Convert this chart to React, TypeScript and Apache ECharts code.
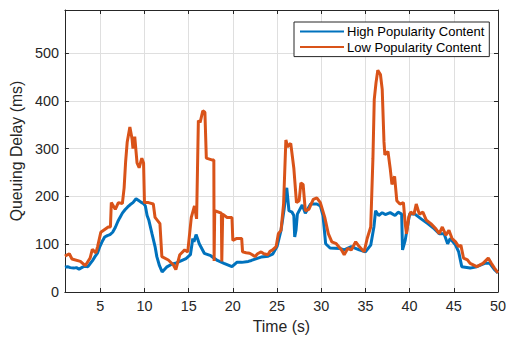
import React, { useEffect, useRef } from "react";
import * as echarts from "echarts";

const highTime = [1, 1.3, 1.6, 2.0, 2.3, 2.6, 3.0, 3.3, 3.6, 3.8, 4.1, 4.4, 4.7, 4.95, 5.2, 5.5, 5.8, 6.1, 6.4, 6.7, 7.0, 7.2, 7.5, 7.8, 8.1, 8.4, 8.7, 9.05, 9.3, 9.6, 9.9, 10.1, 10.3, 10.5, 10.85, 11.2, 11.4, 11.7, 12.0, 12.5, 13.07, 13.5, 14.0, 14.7, 15.2, 15.47, 15.6, 15.84, 16.0, 16.2, 16.77, 17.5, 18.25, 19.0, 19.9, 20.45, 21.0, 21.75, 22.1, 22.85, 23.2, 24.0, 24.5, 25.0, 25.45, 25.8, 26.1, 26.35, 26.7, 26.9, 27.0, 27.15, 27.3, 27.85, 28.2, 28.8, 29.5, 29.9, 30.2, 30.5, 31.0, 32.1, 32.6, 33.4, 34.3, 35.0, 35.6, 35.96, 36.15, 36.5, 36.9, 37.25, 37.8, 38.35, 38.7, 39.1, 39.2, 39.5, 39.75, 40.0, 40.6, 41.3, 42.05, 42.8, 43.35, 43.9, 44.3, 44.6, 45.2, 45.55, 45.9, 46.85, 47.6, 48.5, 49.06, 49.6, 50];
const highDelay = [52, 53, 51, 50, 51, 48, 52, 54, 53, 58, 65, 74, 82, 95, 105, 115, 118, 120, 125, 135, 148, 155, 165, 172, 178, 183, 187, 195, 192, 188, 185, 180, 160, 150, 122, 95, 74, 55, 42, 52, 58, 60, 64, 70, 78, 112, 105, 120, 112, 101, 81, 76, 66, 60, 53, 62, 62, 64, 66, 71, 73, 75, 79, 95, 129, 173, 218, 170, 167, 160, 115, 130, 163, 182, 165, 184, 184, 180, 160, 101, 92, 91, 88, 95, 88, 84, 98, 136, 170, 160, 166, 162, 166, 160, 167, 163, 88, 108, 136, 163, 163, 153, 143, 132, 122, 122, 101, 112, 98, 84, 53, 50, 53, 60, 60, 47, 40];

const lowTime = [1, 1.5, 1.8, 2.75, 3.3, 3.85, 4.1, 4.5, 4.7, 5.06, 5.9, 6.15, 6.25, 6.7, 7.05, 7.5, 7.7, 7.87, 8.05, 8.35, 8.6, 8.7, 8.9, 9.16, 9.4, 9.7, 9.9, 10.0, 10.45, 11.0, 11.2, 11.75, 11.97, 12.7, 13.26, 13.55, 14.0, 14.55, 14.9, 15.3, 15.66, 15.9, 16.1, 16.3, 16.6, 16.84, 17.0, 17.7, 17.85, 17.88, 17.95, 18.7, 18.75, 18.85, 19.35, 19.9, 20.0, 20.45, 21.0, 21.1, 21.5, 21.9, 22.2, 22.5, 22.8, 23.2, 23.5, 23.96, 24.2, 24.5, 24.9, 25.15, 25.45, 25.74, 26.0, 26.2, 26.55, 26.9, 27.2, 27.5, 27.7, 27.95, 28.2, 28.6, 29.1, 29.5, 29.9, 30.4, 30.8, 31.2, 31.7, 32.3, 32.6, 33.0, 33.4, 33.9, 34.3, 34.85, 35.2, 35.6, 35.85, 36.0, 36.2, 36.4, 36.7, 36.9, 37.1, 37.2, 37.55, 37.8, 38.0, 38.3, 38.55, 38.9, 39.3, 39.5, 39.65, 39.9, 40.1, 40.5, 40.75, 41.1, 41.5, 41.9, 42.4, 42.97, 43.35, 43.7, 44.1, 44.45, 44.8, 45.2, 45.55, 45.8, 46.1, 46.55, 46.85, 47.6, 48.3, 48.9, 49.25, 49.6, 50];
const lowDelay = [75, 80, 69, 64, 55, 71, 89, 82, 95, 125, 136, 136, 187, 173, 187, 185, 218, 273, 314, 345, 320, 300, 325, 270, 260, 280, 270, 187, 187, 184, 156, 143, 74, 67, 57, 47, 78, 88, 84, 156, 180, 153, 359, 355, 379, 376, 280, 276, 276, 65, 170, 165, 64, 163, 156, 156, 108, 112, 112, 84, 82, 81, 78, 74, 80, 84, 80, 78, 85, 88, 95, 122, 129, 184, 318, 304, 311, 259, 187, 191, 228, 225, 170, 173, 194, 197, 187, 156, 122, 105, 101, 88, 78, 91, 88, 105, 95, 84, 112, 136, 280, 403, 438, 464, 455, 424, 314, 287, 294, 259, 225, 242, 191, 184, 187, 143, 122, 156, 167, 163, 184, 163, 167, 150, 143, 132, 122, 136, 119, 129, 112, 105, 95, 98, 71, 67, 60, 53, 60, 71, 60, 50, 40];

const xTicks = [5, 10, 15, 20, 25, 30, 35, 40, 45, 50];
const seriesNames = ["High Popularity Content", "Low Popularity Content"];

const AX = "#262626";
const FONT = "Liberation Sans, Arial, Helvetica, sans-serif";

export default function App() {
  const ref = useRef<HTMLDivElement>(null);
  useEffect(() => {
    if (!ref.current) return;
    const chart = echarts.init(ref.current, undefined, { renderer: "svg" });
    const high = highTime.map((t, i) => [t, highDelay[i]]);
    const low = lowTime.map((t, i) => [t, lowDelay[i]]);
    const xBase = {
      type: "value" as const,
      min: 1,
      max: 50,
      axisLine: { show: true, onZero: false, lineStyle: { color: AX, width: 1 } },
      axisTick: { show: true, inside: true, length: 4, customValues: xTicks, lineStyle: { color: AX } },
    };
    const yBase = {
      type: "value" as const,
      min: 0,
      max: 590,
      interval: 100,
      axisLine: { show: true, onZero: false, lineStyle: { color: AX, width: 1 } },
      axisTick: { show: true, inside: true, length: 4, lineStyle: { color: AX } },
    };
    chart.setOption({
      animation: false,
      backgroundColor: "#ffffff",
      textStyle: { fontFamily: FONT },
      grid: { left: 59, right: 7, top: 10, bottom: 43, containLabel: false },
      legend: {
        orient: "vertical",
        left: 294,
        top: 22,
        padding: [3, 5, 3, 5],
        itemWidth: 44,
        itemHeight: 13,
        itemGap: 2.6,
        itemStyle: { opacity: 0 },
        borderColor: AX,
        borderWidth: 1,
        backgroundColor: "#ffffff",
        textStyle: { fontSize: 13, color: "#000000", fontFamily: FONT, padding: [0, 0, 0, -2] },
        data: seriesNames,
      },
      xAxis: [
        {
          ...xBase,
          position: "bottom",
          name: "Time (s)",
          nameLocation: "middle",
          nameGap: 26,
          nameTextStyle: { fontSize: 15.8, color: AX, fontFamily: FONT },
          axisLabel: { show: true, customValues: xTicks, color: AX, fontSize: 14.4, margin: 7, fontFamily: FONT },
          splitLine: { show: true, lineStyle: { color: "#dfdfdf", width: 1 } },
        },
        {
          ...xBase,
          position: "top",
          axisLabel: { show: false },
          splitLine: { show: false },
        },
      ],
      yAxis: [
        {
          ...yBase,
          position: "left",
          name: "Queuing Delay (ms)",
          nameLocation: "middle",
          nameGap: 36,
          nameTextStyle: { fontSize: 15.8, color: AX, fontFamily: FONT },
          axisLabel: { show: true, color: AX, fontSize: 14.4, margin: 6, showMaxLabel: false, fontFamily: FONT },
          splitLine: { show: true, lineStyle: { color: "#dfdfdf", width: 1 } },
        },
        {
          ...yBase,
          position: "right",
          axisLabel: { show: false },
          splitLine: { show: false },
        },
      ],
      series: [
        {
          name: seriesNames[0],
          type: "line",
          data: high,
          xAxisIndex: 0,
          yAxisIndex: 0,
          showSymbol: false,
          symbol: "none",
          lineStyle: { color: "#0072BD", width: 3 },
          itemStyle: { color: "#0072BD" },
        },
        {
          name: seriesNames[1],
          type: "line",
          data: low,
          xAxisIndex: 0,
          yAxisIndex: 0,
          showSymbol: false,
          symbol: "none",
          lineStyle: { color: "#D95319", width: 3 },
          itemStyle: { color: "#D95319" },
        },
      ],
    });
    return () => chart.dispose();
  }, []);
  return (
    <div
      ref={ref}
      style={{ position: "fixed", left: 0, top: 0, width: 509, height: 339, background: "#fff" }}
    />
  );
}
